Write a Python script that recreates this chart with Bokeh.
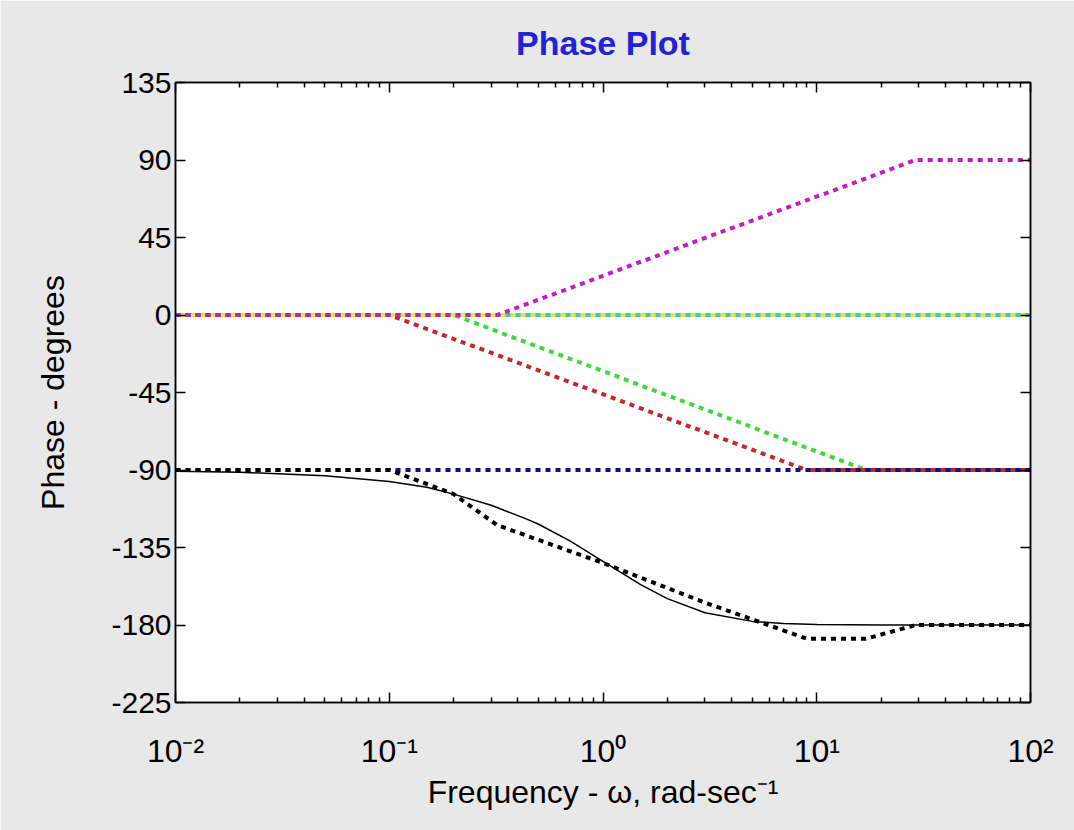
from bokeh.plotting import figure
from bokeh.models import FixedTicker, LinearAxis, LogAxis, Range1d
from bokeh.embed import file_html
from bokeh.resources import INLINE

# ---------------- data ----------------
y_ticks = [-225, -180, -135, -90, -45, 0, 45, 90, 135]
decades = [-2, -1, 0, 1, 2]
x_tick_labels = ["10⁻²", "10⁻¹", "10⁰", "10¹", "10²"]

# exact phase (solid black)
freq_exact = [0.01, 0.02, 0.05, 0.1, 0.15, 0.2, 0.3, 0.44, 0.5, 0.7, 1, 1.5, 2, 3, 5, 7, 10, 20, 50, 100]
phase_exact = [-90.7, -91.3, -93.3, -96.7, -100.0, -104.0, -110.5, -118.5, -121.5, -131.2, -143.1,
               -156.6, -164.7, -172.9, -177.9, -179.1, -179.7, -180.0, -180.0, -180.0]

# asymptotic sum (dotted black)
freq_asym = [0.01, 0.1, 0.2, 0.32, 1, 3, 9, 17, 29, 100]
phase_asym = [-90, -90, -104, -122, -144, -167, -188, -188, -180, -180]

# individual asymptotes
freq_gain = [0.01, 100]
phase_gain = [0, 0]
freq_integ = [0.01, 100]
phase_integ = [-90, -90]
freq_red = [0.01, 0.1, 9, 100]
phase_red = [0, 0, -90, -90]
freq_green = [0.01, 0.2, 17, 100]
phase_green = [0, 0, -90, -90]
freq_mag = [0.01, 0.32, 29, 100]
phase_mag = [0, 0, 90, 90]

FONT = "Liberation Sans"
BG = "#e8e8e8"

p = figure(width=1074, height=830, x_axis_type="log",
           x_range=Range1d(0.01, 100), y_range=Range1d(-225, 135),
           output_backend="svg", toolbar_location=None,
           min_border_left=175, min_border_right=44, min_border_top=82, min_border_bottom=128,
           title="Phase Plot")
p.border_fill_color = BG
p.background_fill_color = "white"
p.outline_line_color = "black"
p.outline_line_width = 1.5
p.xgrid.visible = False
p.ygrid.visible = False

p.title.align = "center"
p.title.text_font = FONT
p.title.text_font_size = "34px"
p.title.text_font_style = "bold"
p.title.text_color = "#2222d8"
p.title.standoff = 42

minor = [m * 10 ** e for e in decades[:-1] for m in range(2, 10)]
xticker = FixedTicker(ticks=[10 ** e for e in decades], minor_ticks=minor)
yticker = FixedTicker(ticks=y_ticks)

def style_x(ax, labels):
    ax.ticker = xticker
    ax.major_tick_in = 10
    ax.major_tick_out = 0
    ax.minor_tick_in = 5
    ax.minor_tick_out = 0
    ax.major_tick_line_color = "black"
    ax.minor_tick_line_color = "black"
    ax.major_tick_line_width = 1.5
    ax.minor_tick_line_width = 1.5
    ax.axis_line_color = "black"
    ax.axis_line_width = 1.5
    if labels:
        ax.major_label_overrides = {10 ** e: t for e, t in zip(decades, x_tick_labels)}
        ax.major_label_text_font = FONT
        ax.major_label_text_font_size = "32px"
        ax.major_label_text_color = "black"
        ax.major_label_standoff = 30
        ax.axis_label = "Frequency - ω, rad-sec⁻¹"
        ax.axis_label_text_font = FONT
        ax.axis_label_text_font_size = "32px"
        ax.axis_label_text_font_style = "normal"
        ax.axis_label_text_color = "black"
        ax.axis_label_standoff = 2
    else:
        ax.major_label_text_color = None

def style_y(ax, labels):
    ax.ticker = yticker
    ax.major_tick_in = 10
    ax.major_tick_out = 0
    ax.minor_tick_line_color = None
    ax.major_tick_line_color = "black"
    ax.major_tick_line_width = 1.5
    ax.axis_line_color = "black"
    ax.axis_line_width = 1.5
    if labels:
        ax.major_label_overrides = {t: str(t) for t in y_ticks}
        ax.major_label_text_font = FONT
        ax.major_label_text_font_size = "30px"
        ax.major_label_text_color = "black"
        ax.major_label_standoff = 4
        ax.axis_label = "Phase - degrees"
        ax.axis_label_text_font = FONT
        ax.axis_label_text_font_size = "32px"
        ax.axis_label_text_font_style = "normal"
        ax.axis_label_text_color = "black"
        ax.axis_label_standoff = 37
    else:
        ax.major_label_text_color = None

style_x(p.xaxis[0], True)
style_y(p.yaxis[0], True)

top = LogAxis()
style_x(top, False)
p.add_layout(top, "above")
right = LinearAxis()
style_y(right, False)
p.add_layout(right, "right")

# ---------------- lines ----------------
W = 4
# zero line: yellow base, cyan dotted
p.line(freq_gain, phase_gain, line_color="#e6e63c", line_width=W)
p.line(freq_gain, phase_gain, line_color="#3cc8c0", line_width=W, line_dash="5 5")
# green
p.line(freq_green, phase_green, line_color="#3ed83e", line_width=W, line_dash="5 5")
# red, with solid tail under the blue dots
p.line(freq_red[-2:], phase_red[-2:], line_color="#c42828", line_width=W)
p.line(freq_red, phase_red, line_color="#c42828", line_width=W, line_dash="5 5")
# blue (integrator)
p.line(freq_integ, phase_integ, line_color="#10108c", line_width=W, line_dash="5 5")
# magenta
p.line(freq_mag, phase_mag, line_color="#c41cc4", line_width=W, line_dash="5 5")
# asymptotic sum and exact phase
p.line(freq_asym, phase_asym, line_color="black", line_width=W, line_dash="5 5")
p.line(freq_exact, phase_exact, line_color="black", line_width=1.5)

open("out.html", "w").write(file_html(p, INLINE))
